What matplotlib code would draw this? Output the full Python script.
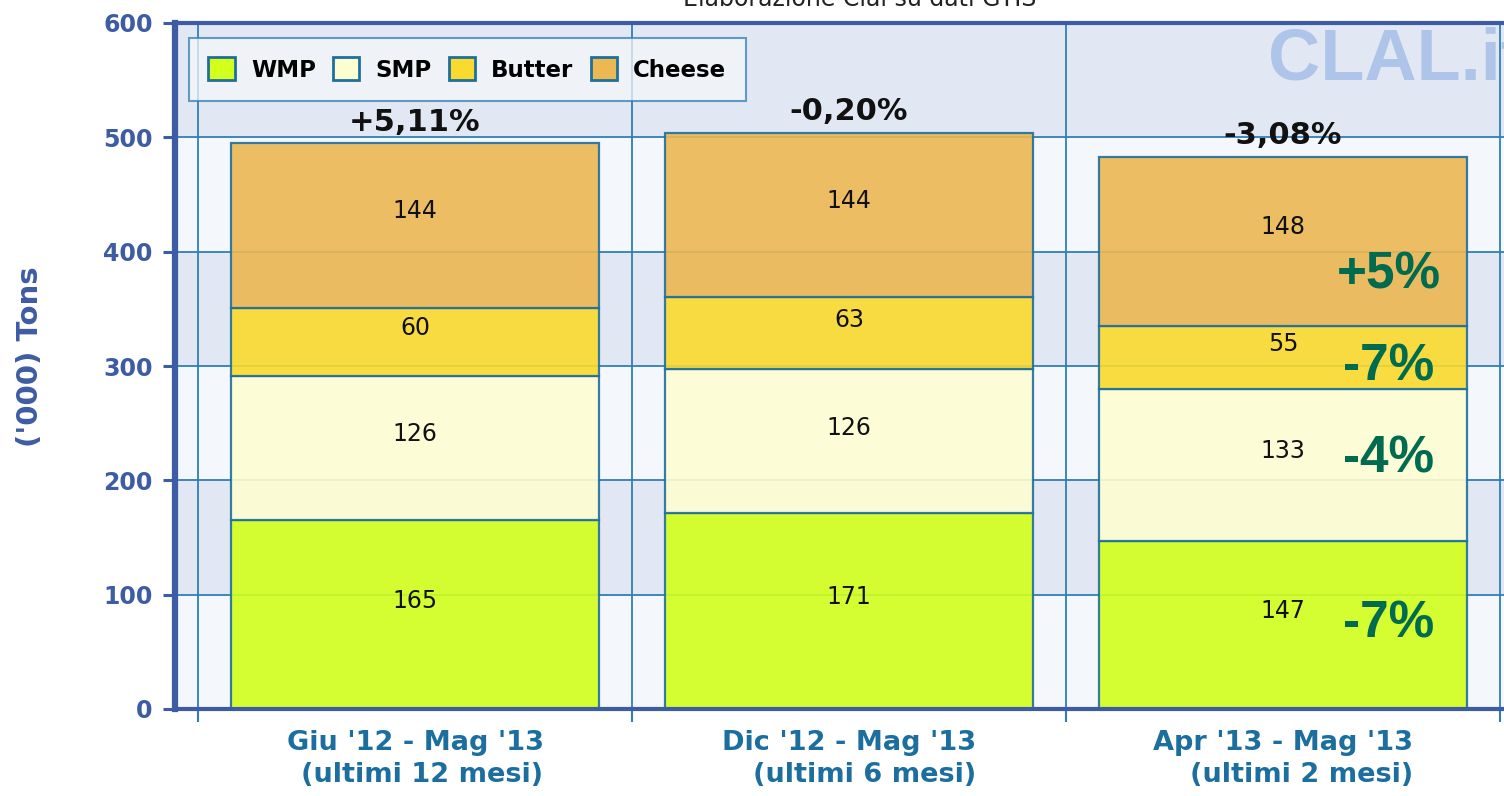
import numpy as np
import matplotlib
matplotlib.use('Agg')
import matplotlib.pyplot as plt
from matplotlib.patches import Patch

periods = ["Giu '12 - Mag '13\n(ultimi 12 mesi)",
           "Dic '12 - Mag '13\n(ultimi 6 mesi)",
           "Apr '13 - Mag '13\n(ultimi 2 mesi)"]
products = ['WMP', 'SMP', 'Butter', 'Cheese']
wmp = [165, 171, 147]
smp = [126, 126, 133]
butter = [60, 63, 55]
cheese = [144, 144, 148]
total_change = ['+5,11%', '-0,20%', '-3,08%']
# change of each product in the last period (WMP, SMP, Butter, Cheese)
last_change = ['-7%', '-4%', '-7%', '+5%']

series = [wmp, smp, butter, cheese]
colors = ['#d2ff1c', '#fdfdd2', '#fada2c', '#edb752']
EDGE = '#1f6f9c'
GRID = '#2f7fb5'
SPINE = '#3d5ca3'
XLAB = '#1b6e9e'
GREEN = '#006b4f'

W, H = 1504, 796
fig = plt.figure(figsize=(W / 100, H / 100), dpi=100)
ax = fig.add_axes([175 / W, 1 - 709 / H, 1 - 175 / W, (709 - 23) / H])

# alternating background bands
for y0 in range(0, 600, 100):
    ax.axhspan(y0, y0 + 100, color='#e1e8f3' if (y0 // 100) % 2 else '#f4f7fb', zorder=0, lw=0)

x = np.arange(len(periods))
bottom = np.zeros(len(periods))
last_mids = []
for name, vals, c in zip(products, series, colors):
    vals = np.array(vals)
    ax.bar(x, vals, 0.848, bottom=bottom, color=c, alpha=0.9,
           edgecolor=EDGE, linewidth=1.6, zorder=2)
    for xi, v, b in zip(x, vals, bottom):
        ax.annotate(str(v), (xi, b + v / 2), xytext=(0, 10), textcoords='offset points',
                    ha='center', va='center', fontsize=17, color='#111111', zorder=5)
    last_mids.append(bottom[-1] + vals[-1] / 2)
    bottom += vals

for xi, tot, lab in zip(x, bottom, total_change):
    ax.annotate(lab, (xi, tot), xytext=(0, 15), textcoords='offset points',
                ha='center', va='center', fontsize=22, fontweight='bold', color='#111111', zorder=5)

green_offsets = [1, 4, -7, -24]
for mid, lab, off in zip(last_mids, last_change, green_offsets):
    ax.annotate(lab, (x[-1], mid), xytext=(76, off), textcoords='offset points',
                ha='center', va='center', fontsize=37, fontweight='bold',
                family=['Liberation Sans', 'DejaVu Sans'], color=GREEN, zorder=6)

ax.set_ylim(0, 600)
ax.set_xlim(-0.553, 2.509)
ax.set_yticks(range(0, 601, 100))
ax.set_xticks(x)
ax.set_xticklabels(periods)
ax.set_xticks(np.append(x - 0.5, x[-1] + 0.5), minor=True)

ax.set_axisbelow(True)
ax.yaxis.grid(True, color=GRID, lw=1.3)
ax.xaxis.grid(True, which='minor', color=GRID, lw=1.3)
ax.xaxis.grid(False, which='major')

ax.tick_params(axis='x', which='major', length=0, pad=15, labelsize=19.5, labelcolor=XLAB)
ax.tick_params(axis='x', which='minor', length=9, width=1.5, color=GRID, direction='out')
ax.tick_params(axis='y', length=9, width=2.2, color=SPINE, pad=7, labelsize=17, labelcolor=SPINE)
for lbl in ax.get_xticklabels():
    lbl.set_fontweight('bold')
    lbl.set_multialignment('right')
    lbl.set_linespacing(1.3)
for lbl in ax.get_yticklabels():
    lbl.set_fontweight('bold')

ax.spines['right'].set_visible(False)
ax.spines['left'].set_linewidth(4.5)
ax.spines['bottom'].set_linewidth(3)
ax.spines['top'].set_linewidth(3)
for s in ['left', 'bottom', 'top']:
    ax.spines[s].set_color(SPINE)

handles = [Patch(facecolor=c, edgecolor=EDGE, linewidth=2) for c in colors]
leg = ax.legend(handles, products, loc='upper left', bbox_to_anchor=(14 / 1329, 1 - 15 / 686),
                ncol=4, prop={'weight': 'bold', 'size': 16.5}, frameon=True, fancybox=False,
                facecolor='#f4f7fb', edgecolor=GRID, framealpha=0.75,
                handlelength=1.15, handleheight=1.15, handletextpad=0.7,
                columnspacing=0.75, borderpad=0.85, borderaxespad=0)
leg.get_frame().set_linewidth(1.5)
leg.set_zorder(7)

# watermark and cut-off heading
ax.text(1268 / W, 1 - 60 / H, 'CLAL.it', transform=fig.transFigure, fontsize=52,
        fontweight='bold', color='#aec4e8', family=['Liberation Sans Narrow', 'Liberation Sans'],
        ha='left', va='center', zorder=0.8)
fig.text(860 / W, 1 - 6 / H, 'Elaborazione Clal su dati GTIS', ha='center', va='baseline',
         fontsize=17, color='#222222')

fig.text(30 / W, 1 - 357 / H, "('000) Tons", rotation=90, ha='center', va='center',
         fontsize=21, fontweight='bold', color=SPINE)

fig.savefig('out.png', dpi=100)
